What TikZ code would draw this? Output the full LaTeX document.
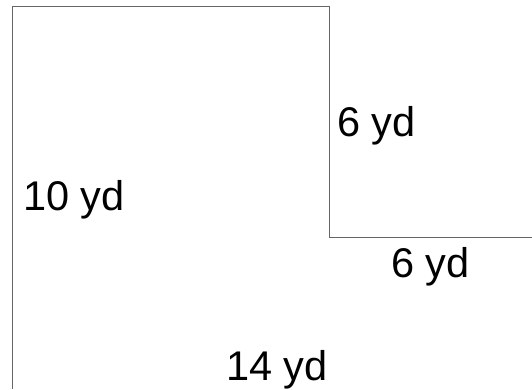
\documentclass[tikz,border=0pt]{standalone}
\usepackage{fontspec}
\setmainfont{Liberation Sans}
\usepackage{xcolor}
\definecolor{edge}{rgb}{0.4,0.4,0.4}
\usepackage{tikz}
\usetikzlibrary{calc,positioning}
\tikzset{
  side/.style={draw=edge, line width=1pt},
  dim/.style={anchor=base west, inner sep=0pt, font=\fontsize{41.5}{50}\selectfont}
}
\begin{document}
\begin{tikzpicture}[x=1pt,y=1pt]
    \useasboundingbox (0,0) rectangle (532,389);

    \coordinate (tl) at (12,382);
    \coordinate (tr) at (329,382);
    \coordinate (step) at (329,152);
    \coordinate (re) at (532,152);
    \coordinate (bl) at (12,0);

    \draw[side] (bl) -- (tl) -- (tr) -- (step) -- (re);

    \node[dim] (up) at (337,253) {6 yd};
    \node[dim] (left) at (23,179) {10 yd};
    \node[dim] (low) at (391,112) {6 yd};
    \node[dim] (bot) at (226,9) {14 yd};
\end{tikzpicture}
\end{document}
